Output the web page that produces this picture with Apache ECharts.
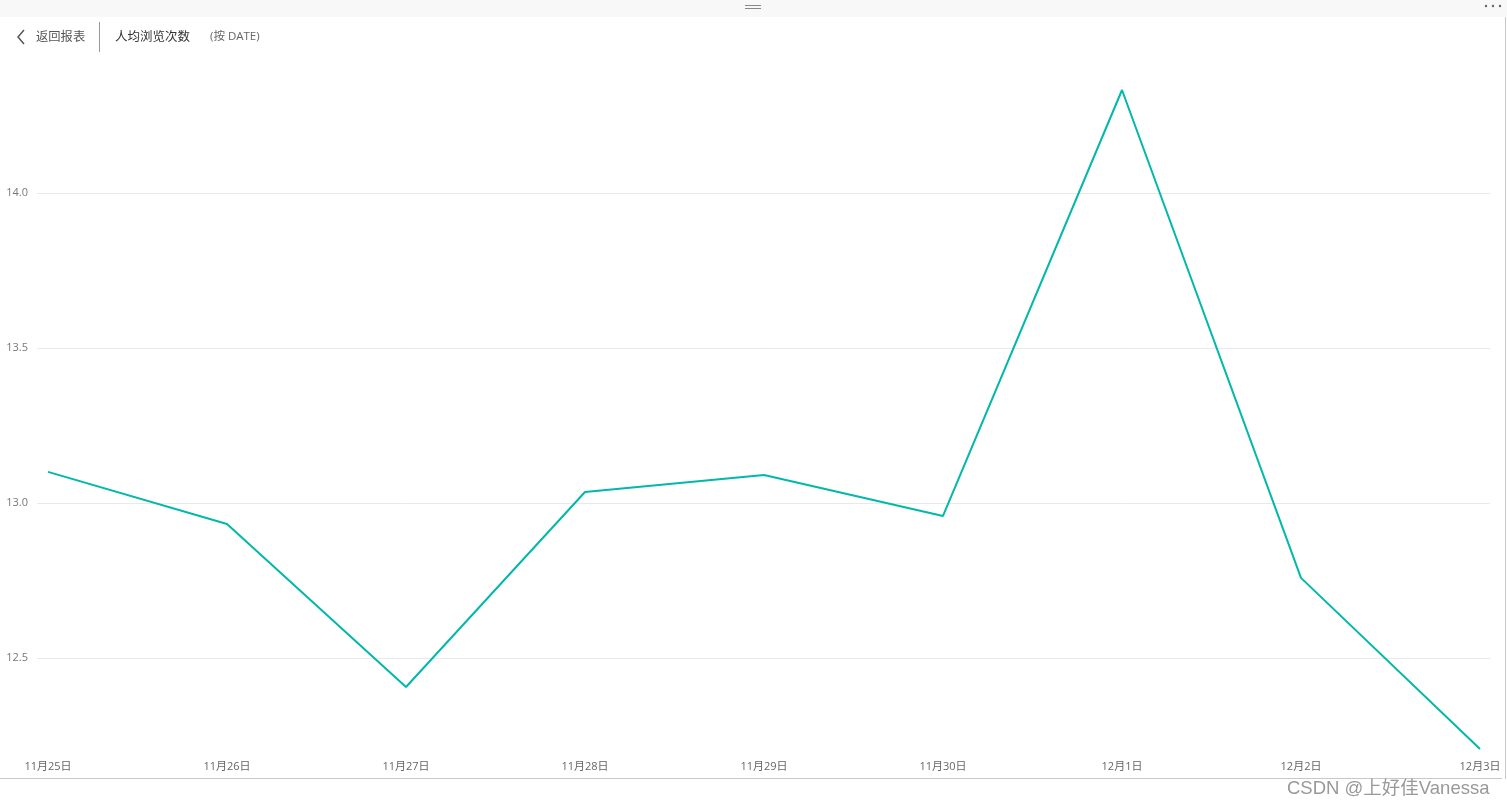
<!DOCTYPE html>
<html>
<head>
<meta charset="utf-8">
<script src="https://cdn.jsdelivr.net/npm/echarts@6/dist/echarts.min.js"></script>
<style>
html,body{margin:0;padding:0;background:#fff;}
#c{width:1507px;height:807px;}
</style>
</head>
<body>
<div id="c"></div>
<script>
const categories = ['11月25日','11月26日','11月27日','11月28日','11月29日','11月30日','12月1日','12月2日','12月3日'];
const values = [13.100, 12.932, 12.406, 13.035, 13.090, 12.958, 14.332, 12.758, 12.206];
const yTickMin = 12.5;
const yTickMax = 14.5;
const yTickStep = 0.5;

const yMin = Math.min(...values);
const yMax = Math.max(...values);
const font = '"Segoe UI","Open Sans","Noto Sans CJK SC",sans-serif';

// plot area (data grid) vertical extent
const plotTop = 90, plotBottom = 749;
const pxPerUnit = (plotBottom - plotTop) / (yMax - yMin);
const g0Top = plotTop - (yTickMax - yMax) * pxPerUnit;
const g0Height = (yTickMax - yTickMin) * pxPerUnit;

const chart = echarts.init(document.getElementById('c'));
chart.setOption({
  animation: false,
  backgroundColor: '#fff',
  grid: [
    {left: 37, right: 17, top: g0Top, height: g0Height},
    {left: 48, right: 27, top: plotTop, bottom: 807 - plotBottom}
  ],
  xAxis: [
    {gridIndex: 0, type: 'value', min: 0, max: 1, show: false},
    {gridIndex: 1, type: 'category', data: categories, boundaryGap: false,
     axisLine: {show: false}, axisTick: {show: false}, splitLine: {show: false},
     axisLabel: {color: '#666', fontSize: 11, fontFamily: font, margin: 12, interval: 0}}
  ],
  yAxis: [
    {gridIndex: 0, type: 'value', min: yTickMin, max: yTickMax, interval: yTickStep,
     axisLine: {show: false}, axisTick: {show: false},
     splitLine: {show: true, showMinLine: true, showMaxLine: false, lineStyle: {color: '#e9e9e9', width: 1}},
     axisLabel: {color: '#777', fontSize: 11, fontFamily: font, margin: 9,
       showMinLabel: true, showMaxLabel: false, formatter: v => v.toFixed(1)}},
    {gridIndex: 1, type: 'value', min: yMin, max: yMax, show: false}
  ],
  series: [{
    type: 'line', xAxisIndex: 1, yAxisIndex: 1, data: values,
    symbol: 'none', lineStyle: {color: '#01B8AA', width: 2}, itemStyle: {color: '#01B8AA'}
  }],
  graphic: [
    {type: 'rect', shape: {x: 0, y: 0, width: 1507, height: 17}, style: {fill: '#f8f8f8'}, silent: true},
    {type: 'rect', shape: {x: 745, y: 5, width: 16, height: 1}, style: {fill: '#888'}},
    {type: 'rect', shape: {x: 745, y: 8, width: 16, height: 1}, style: {fill: '#888'}},
    {type: 'circle', shape: {cx: 1486, cy: 6, r: 1.2}, style: {fill: '#666'}},
    {type: 'circle', shape: {cx: 1493, cy: 6, r: 1.2}, style: {fill: '#666'}},
    {type: 'circle', shape: {cx: 1500, cy: 6, r: 1.2}, style: {fill: '#666'}},
    {type: 'polyline', shape: {points: [[24, 30], [18, 37], [24, 44]]}, style: {stroke: '#555', lineWidth: 1.5, fill: null}},
    {type: 'text', x: 36, y: 37, style: {text: '返回报表', fill: '#555', font: '12.3px ' + font, textVerticalAlign: 'middle'}},
    {type: 'rect', shape: {x: 99, y: 22, width: 1, height: 30}, style: {fill: '#999'}},
    {type: 'text', x: 115, y: 37, style: {text: '人均浏览次数', fill: '#333', font: '12.5px ' + font, textVerticalAlign: 'middle'}},
    {type: 'text', x: 210, y: 37, style: {text: '(按 DATE)', fill: '#666', font: '11.5px ' + font, textVerticalAlign: 'middle'}},
    {type: 'rect', shape: {x: 0, y: 778, width: 1502, height: 1}, style: {fill: '#c8c8c8'}},
    {type: 'rect', shape: {x: 1505, y: 17, width: 1, height: 762}, style: {fill: '#c8c8c8'}},
    {type: 'text', x: 1287, y: 789, style: {text: 'CSDN @上好佳Vanessa', fill: '#999', font: '18.5px "Liberation Sans","Noto Sans CJK SC",sans-serif', textVerticalAlign: 'middle'}}
  ]
});
</script>
</body>
</html>
